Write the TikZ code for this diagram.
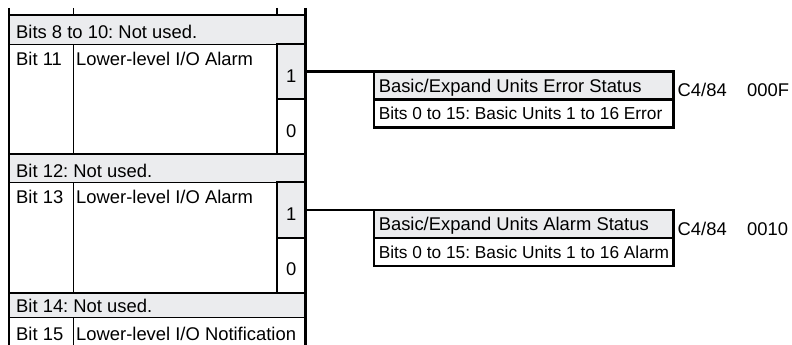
\documentclass[tikz,border=0pt]{standalone}
\usepackage{fontspec}
\setmainfont{Liberation Sans}
\usetikzlibrary{positioning}
\definecolor{rowgray}{RGB}{235,236,238}
\newcommand{\unittext}[1]{\makebox[290pt][l]{#1}}

\begin{document}
\begin{tikzpicture}[
    x=1pt, y=-1pt,
    font=\fontsize{18.4}{21}\selectfont\frenchspacing,
    cell/.style={
        rectangle, draw=black, line width=0.9pt,
        inner sep=0pt, outer sep=0pt, anchor=north west
    },
    notused/.style={cell, fill=rowgray, minimum width=296.5pt},
    bitnum/.style={cell, minimum width=64pt},
    bitdesc/.style={cell, minimum width=204pt},
    flag/.style={cell, line width=2.4pt, minimum width=28.5pt},
    txt/.style={anchor=base west, inner sep=0pt},
    flagtxt/.style={anchor=base, inner sep=0pt},
    unithead/.style={
        rectangle, draw=black, line width=2.4pt, fill=rowgray,
        inner xsep=4.75pt, inner ysep=0pt, outer sep=0pt,
        minimum height=28pt, text depth=0pt, anchor=north west
    },
    unitbody/.style={unithead, fill=white, font=\fontsize{17.3}{20}\selectfont\frenchspacing},
    frame/.style={line width=2.4pt},
    link/.style={line width=2.2pt}
]

\useasboundingbox (0,0) rectangle (792,345);
\clip (0,0) rectangle (792,345);

\def\xNum{9}
\def\xDesc{73}
\def\xFlag{277}
\def\xUnit{374}

% left table
\node[notused, minimum height=29pt] (nu810) at (\xNum,15) {};
\node[bitnum, minimum height=110pt] (b11num) at (\xNum,44) {};
\node[bitdesc, minimum height=110pt] (b11desc) at (\xDesc,44) {};
\node[flag, fill=rowgray, minimum height=55pt] (b11one) at (\xFlag,44) {};
\node[flag, fill=white, minimum height=55pt] (b11zero) at (\xFlag,99) {};
\node[notused, minimum height=28pt] (nu12) at (\xNum,154) {};
\node[bitnum, minimum height=111pt] (b13num) at (\xNum,182) {};
\node[bitdesc, minimum height=111pt] (b13desc) at (\xDesc,182) {};
\node[flag, fill=rowgray, minimum height=56pt] (b13one) at (\xFlag,182) {};
\node[flag, fill=white, minimum height=55pt] (b13zero) at (\xFlag,238) {};
\node[notused, minimum height=24pt] (nu14) at (\xNum,293) {};
\node[bitnum, minimum height=40pt] (b15num) at (\xNum,317) {};
\node[cell, minimum width=232.5pt, minimum height=40pt] (b15desc) at (\xDesc,317) {};

\node[txt] (t810) at ([xshift=7pt, yshift=5pt]nu810.south west) {Bits 8 to 10: Not used.};
\node[txt] (t11num) at ([xshift=7pt, yshift=-22pt]b11num.north west) {Bit 11};
\node[txt] (t11desc) at ([xshift=3pt, yshift=-22pt]b11desc.north west) {Lower-level I/O Alarm};
\node[flagtxt] (t11one) at ([yshift=17pt]b11one.south) {1};
\node[flagtxt] (t11zero) at ([yshift=17pt]b11zero.south) {0};
\node[txt] (t12) at ([xshift=7pt, yshift=5pt]nu12.south west) {Bit 12: Not used.};
\node[txt] (t13num) at ([xshift=7pt, yshift=-21pt]b13num.north west) {Bit 13};
\node[txt] (t13desc) at ([xshift=3pt, yshift=-21pt]b13desc.north west) {Lower-level I/O Alarm};
\node[flagtxt] (t13one) at ([yshift=17.5pt]b13one.south) {1};
\node[flagtxt] (t13zero) at ([yshift=17.5pt]b13zero.south) {0};
\node[txt] (t14) at ([xshift=7pt, yshift=5pt]nu14.south west) {Bit 14: Not used.};
\node[txt] (t15num) at ([xshift=7pt, yshift=-23pt]b15num.north west) {Bit 15};
\node[txt] (t15desc) at ([xshift=3pt, yshift=-23pt]b15desc.north west) {Lower-level I/O Notification};

% heavy rules
\draw[frame] (\xNum,8) -- (\xNum,354);
\draw[frame] (305.5,8) -- (305.5,354);
\draw[frame] (\xNum,15) -- (305.5,15);
\draw[frame] (b11num.south west) -- (b11zero.south east);
\draw[frame] (b13num.south west) -- (b13zero.south east);
\draw[line width=0.9pt] (\xDesc,8) -- (\xDesc,15);
\draw[frame] (\xFlag,8) -- (\xFlag,15);

% unit status words
\node[unithead] (errhead) at (\xUnit,71.5) {\unittext{Basic/Expand Units Error Status}};
\node[unitbody, below=0pt of errhead] (errbody) {\unittext{Bits 0 to 15: Basic Units 1 to 16 Error}};
\node[txt] (erraddr) at ([xshift=4pt, yshift=3pt]errhead.south east) {C4/84};
\node[txt] (errword) at ([xshift=20pt]erraddr.base east) {000F};

\node[unithead] (almhead) at (\xUnit,210) {\unittext{Basic/Expand Units Alarm Status}};
\node[unitbody, below=0pt of almhead] (almbody) {\unittext{Bits 0 to 15: Basic Units 1 to 16 Alarm}};
\node[txt] (almaddr) at ([xshift=4pt, yshift=3pt]almhead.south east) {C4/84};
\node[txt] (almword) at ([xshift=20pt]almaddr.base east) {0010};

\draw[link] (b11one.east) -- (errhead.north west);
\draw[link] (b13one.east) -- (almhead.north west);

\end{tikzpicture}
\end{document}
